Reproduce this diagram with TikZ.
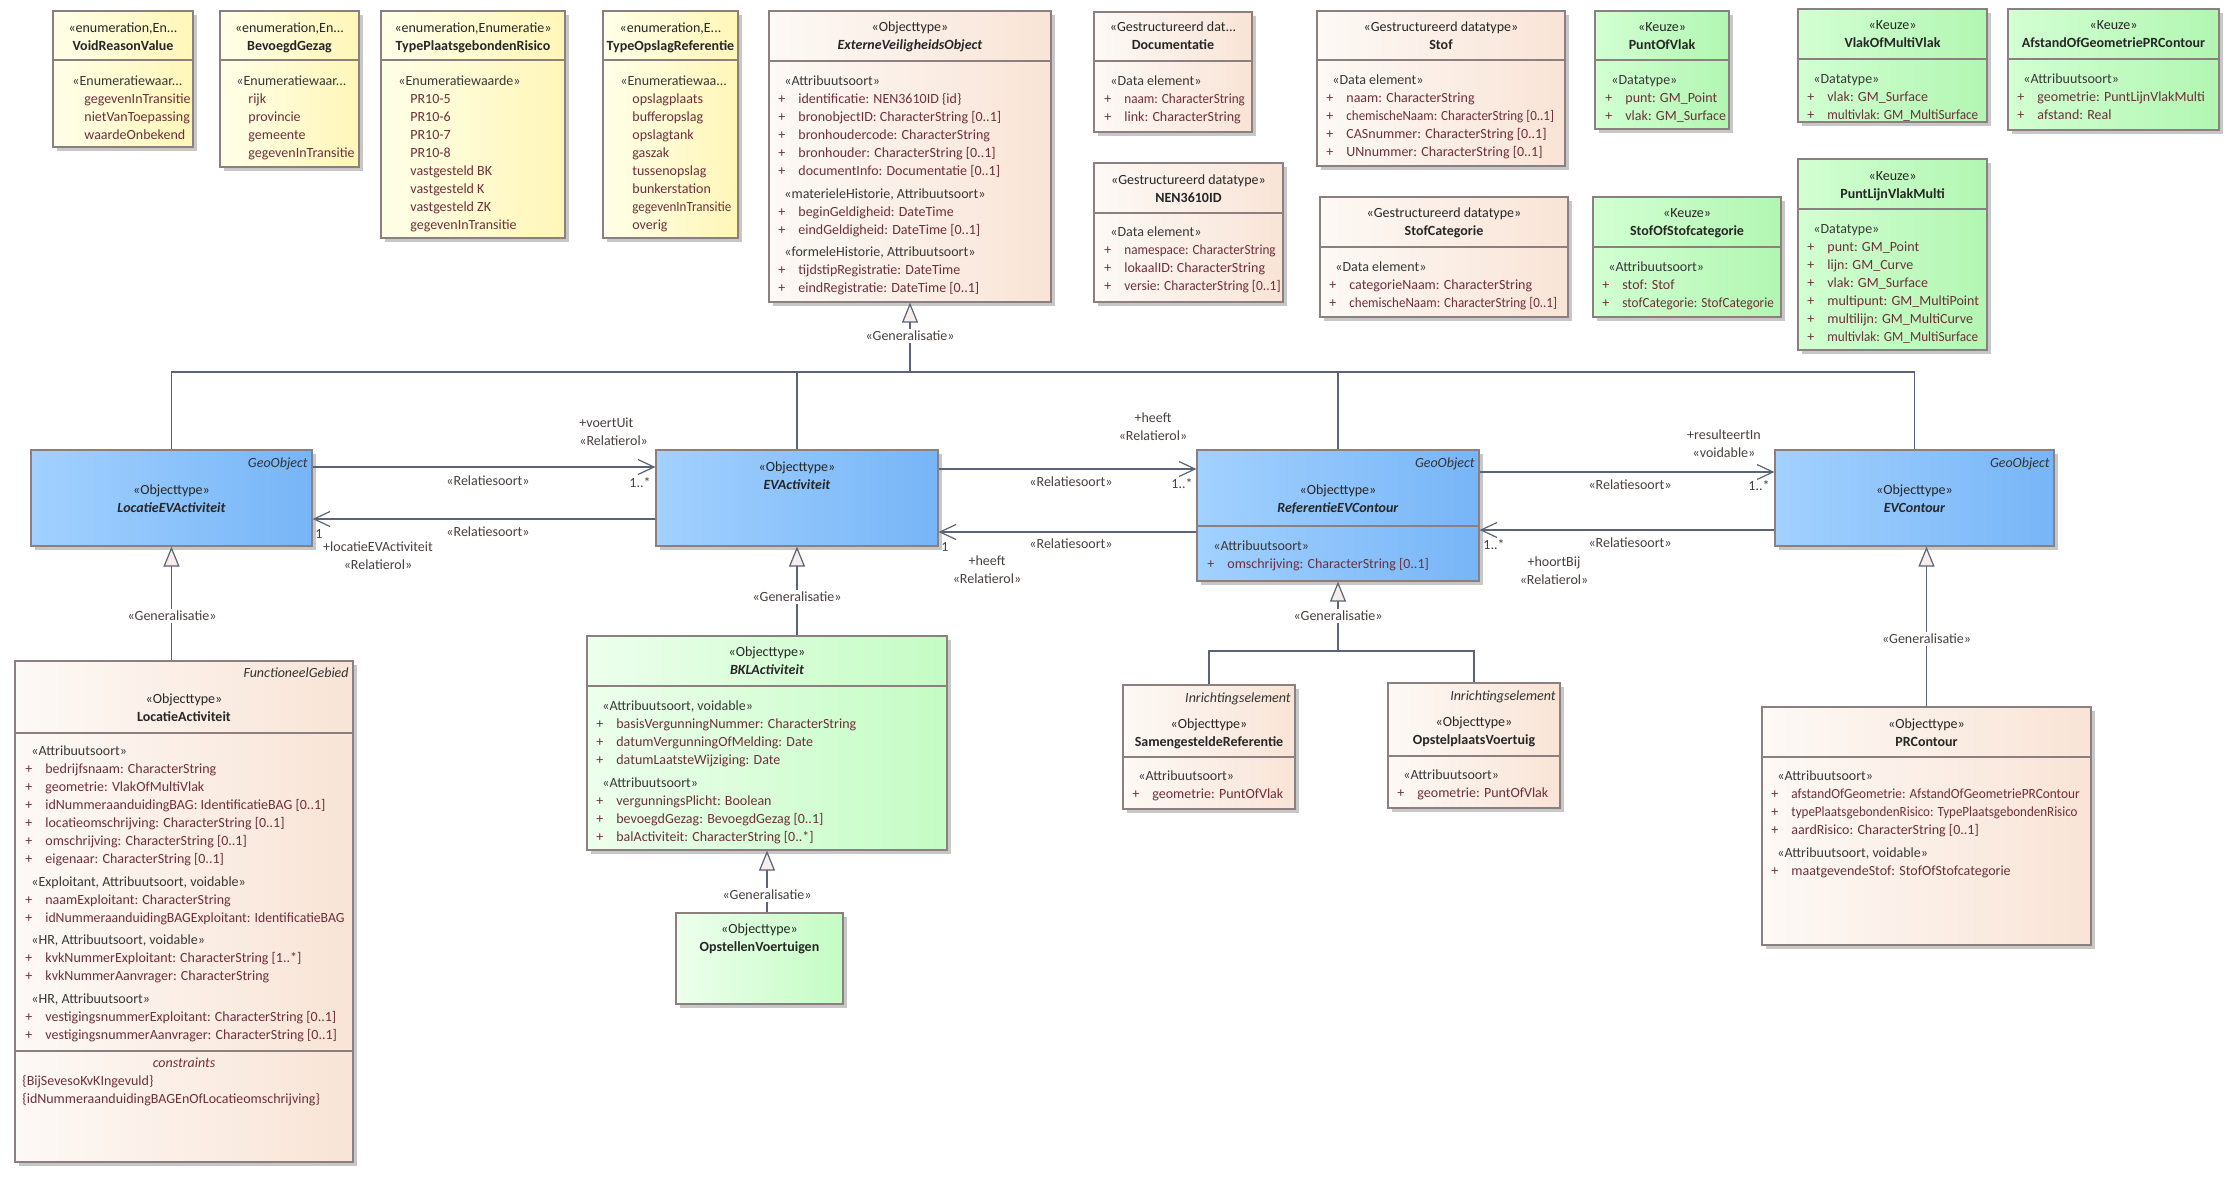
\documentclass[tikz,border=0pt]{standalone}
\usepackage{fontspec}
\setmainfont{Carlito}
\usetikzlibrary{arrows.meta,shadows,fit}

\definecolor{enumL}{HTML}{FFFFE8}
\definecolor{enumR}{HTML}{FFF6B8}
\definecolor{peachL}{HTML}{FDF9F6}
\definecolor{peachR}{HTML}{F9E4D6}
\definecolor{blueL}{HTML}{A2D1FF}
\definecolor{blueR}{HTML}{77B5F7}
\definecolor{keuzeL}{HTML}{D2FFD2}
\definecolor{keuzeR}{HTML}{B2F6B2}
\definecolor{bklL}{HTML}{EDFFED}
\definecolor{bklR}{HTML}{C4FCC4}
\definecolor{boxline}{HTML}{8C7F7F}
\definecolor{connline}{HTML}{5A6478}
\definecolor{attrtext}{HTML}{6E2F3B}
\definecolor{lbltext}{HTML}{4A3F3F}
\definecolor{genfill}{HTML}{F7EDEA}

\newcommand\topstrut{\rule{0pt}{6pt}}
\newcommand\sth[1]{{\color{black!78}#1}}
\newcommand\stt[1]{\hspace*{3pt}\sth{#1}}
\newcommand\itm[1]{\makebox[10pt][l]{+}#1}
\newcommand\lit[1]{\hspace*{6pt}#1}
\newcommand\sq[2][0.94]{\scalebox{#1}[1]{#2}}

\tikzset{
  every node/.style={font=\fontsize{7}{9}\selectfont, inner sep=0pt},
  umlbox/.style={draw=boxline, line width=0.6pt, inner sep=0pt,
    drop shadow={shadow xshift=2pt, shadow yshift=-2pt, fill=black!22, opacity=1}},
  enumbox/.style={umlbox, left color=enumL, right color=enumR},
  databox/.style={umlbox, left color=peachL, right color=peachR},
  geobox/.style={umlbox, left color=blueL, right color=blueR},
  keuzebox/.style={umlbox, left color=keuzeL, right color=keuzeR},
  bklbox/.style={umlbox, left color=bklL, right color=bklR},
  divider/.style={draw=boxline, line width=0.6pt},
  head/.style={align=center, anchor=north, text=black!85},
  attrs/.style={align=left, anchor=north west, text=attrtext},
  tagl/.style={anchor=mid east, font=\fontsize{7}{9}\selectfont\itshape, text=black!80},
  conn/.style={draw=connline, line width=0.6pt},
  assoc/.style={conn, -{Straight Barb[length=8pt, width=7.5pt]}},
  genarrow/.style={conn, -{Triangle[length=10pt, width=8pt, fill=genfill]}},
  gentag/.style={fill=white, inner sep=1pt, text=lbltext},
  lbl/.style={text=lbltext},
  role/.style={lbl, align=center, anchor=north}
}

\begin{document}
\begin{tikzpicture}[x=0.5pt, y=-0.5pt]
  \fill[white] (0,0) rectangle (2239,1180);
  \useasboundingbox (0,0) rectangle (2239,1180);

  % enumerations
  \node[enumbox, fit={(53,11) (193,147)}] (voidReason) {};
  \draw[divider] (53,60) -- (193,60);
  \node[head] (voidReasonHd) at (123,20.5) {\topstrut«enumeration,En...\\\textbf{VoidReasonValue}};
  \node[attrs] (voidReasonLst) at (72,73.5) {\topstrut\sth{«Enumeratiewaar...}\\\lit{gegevenInTransitie}\\\lit{nietVanToepassing}\\\lit{waardeOnbekend}};

  \node[enumbox, fit={(220,11) (359,167)}] (bevoegd) {};
  \draw[divider] (220,60) -- (359,60);
  \node[head] (bevoegdHd) at (289.5,20.5) {\topstrut«enumeration,En...\\\textbf{BevoegdGezag}};
  \node[attrs] (bevoegdLst) at (236,73.5) {\topstrut\sth{«Enumeratiewaar...}\\\lit{rijk}\\\lit{provincie}\\\lit{gemeente}\\\lit{gegevenInTransitie}};

  \node[enumbox, fit={(381,11) (565,238)}] (typePR) {};
  \draw[divider] (381,60) -- (565,60);
  \node[head] (typePRHd) at (473,20.5) {\topstrut«enumeration,Enumeratie»\\\textbf{TypePlaatsgebondenRisico}};
  \node[attrs] (typePRLst) at (398,73.5) {\topstrut\sth{«Enumeratiewaarde»}\\\lit{PR10-5}\\\lit{PR10-6}\\\lit{PR10-7}\\\lit{PR10-8}\\\lit{vastgesteld BK}\\\lit{vastgesteld K}\\\lit{vastgesteld ZK}\\\lit{gegevenInTransitie}};

  \node[enumbox, fit={(603,11) (738,238)}] (typeOpslag) {};
  \draw[divider] (603,60) -- (738,60);
  \node[head] (typeOpslagHd) at (670.5,20.5) {\topstrut«enumeration,E...\\\textbf{TypeOpslagReferentie}};
  \node[attrs] (typeOpslagLst) at (620,73.5) {\topstrut\sth{«Enumeratiewaa...}\\\lit{opslagplaats}\\\lit{bufferopslag}\\\lit{opslagtank}\\\lit{gaszak}\\\lit{tussenopslag}\\\lit{bunkerstation}\\\lit{\sq[0.93]{gegevenInTransitie}}\\\lit{overig}};

  % top data types
  \node[databox, fit={(769,11) (1051,302)}] (evo) {};
  \draw[divider] (769,61) -- (1051,61);
  \node[head] (evoHd) at (910,19.5) {\topstrut«Objecttype»\\\textbf{\textit{ExterneVeiligheidsObject}}};
  \node[attrs] (evoLst) at (778,73.5) {\topstrut\stt{«Attribuutsoort»}\\
    \itm{identificatie: NEN3610ID \{id\}}\\\itm{bronobjectID: CharacterString [0..1]}\\
    \itm{bronhoudercode: CharacterString}\\\itm{bronhouder: CharacterString [0..1]}\\
    \itm{documentInfo: Documentatie [0..1]}\\[2.2pt]
    \stt{«materieleHistorie, Attribuutsoort»}\\\itm{beginGeldigheid: DateTime}\\
    \itm{eindGeldigheid: DateTime [0..1]}\\[2.2pt]
    \stt{«formeleHistorie, Attribuutsoort»}\\\itm{tijdstipRegistratie: DateTime}\\
    \itm{eindRegistratie: DateTime [0..1]}};

  \node[databox, fit={(1094,12) (1252,132)}] (docu) {};
  \draw[divider] (1094,61) -- (1252,61);
  \node[head] (docuHd) at (1173,19.5) {\topstrut«Gestructureerd dat...\\\textbf{Documentatie}};
  \node[attrs] (docuLst) at (1104,73.5) {\topstrut\stt{«Data element»}\\\itm{\sq{naam: CharacterString}}\\\itm{link: CharacterString}};

  \node[databox, fit={(1094,163) (1283,302)}] (nen) {};
  \draw[divider] (1094,213) -- (1283,213);
  \node[head] (nenHd) at (1188.5,172.5) {\topstrut«Gestructureerd datatype»\\\textbf{NEN3610ID}};
  \node[attrs] (nenLst) at (1104,224.5) {\topstrut\stt{«Data element»}\\\itm{\sq{namespace: CharacterString}}\\\itm{lokaalID: CharacterString}\\\itm{\sq[0.96]{versie: CharacterString [0..1]}}};

  \node[databox, fit={(1317,11) (1565,166)}] (stof) {};
  \draw[divider] (1317,60) -- (1565,60);
  \node[head] (stofHd) at (1441,19.5) {\topstrut«Gestructureerd datatype»\\\textbf{Stof}};
  \node[attrs] (stofLst) at (1326,72.5) {\topstrut\stt{«Data element»}\\\itm{naam: CharacterString}\\\itm{\sq[0.93]{chemischeNaam: CharacterString [0..1]}}\\\itm{CASnummer: CharacterString [0..1]}\\\itm{UNnummer: CharacterString [0..1]}};

  \node[databox, fit={(1320,197) (1568,317)}] (stofCat) {};
  \draw[divider] (1320,247) -- (1568,247);
  \node[head] (stofCatHd) at (1444,205.5) {\topstrut«Gestructureerd datatype»\\\textbf{StofCategorie}};
  \node[attrs] (stofCatLst) at (1329,259.5) {\topstrut\stt{«Data element»}\\\itm{categorieNaam: CharacterString}\\\itm{\sq[0.93]{chemischeNaam: CharacterString [0..1]}}};

  % keuze types
  \node[keuzebox, fit={(1595,11) (1729,129)}] (puntOfVlak) {};
  \draw[divider] (1595,60) -- (1729,60);
  \node[head] (puntOfVlakHd) at (1662,19.5) {\topstrut«Keuze»\\\textbf{PuntOfVlak}};
  \node[attrs] (puntOfVlakLst) at (1605,72.5) {\topstrut\stt{«Datatype»}\\\itm{punt: GM\_Point}\\\itm{vlak: GM\_Surface}};

  \node[keuzebox, fit={(1593,197) (1781,317)}] (stofOfStof) {};
  \draw[divider] (1593,247) -- (1781,247);
  \node[head] (stofOfStofHd) at (1687,205.5) {\topstrut«Keuze»\\\textbf{StofOfStofcategorie}};
  \node[attrs] (stofOfStofLst) at (1602,259.5) {\topstrut\stt{«Attribuutsoort»}\\\itm{stof: Stof}\\\itm{\sq{stofCategorie: StofCategorie}}};

  \node[keuzebox, fit={(1798,9) (1987,122)}] (vlakOfMulti) {};
  \draw[divider] (1798,59) -- (1987,59);
  \node[head] (vlakOfMultiHd) at (1892.5,17.5) {\topstrut«Keuze»\\\textbf{VlakOfMultiVlak}};
  \node[attrs] (vlakOfMultiLst) at (1807,71.5) {\topstrut\stt{«Datatype»}\\\itm{vlak: GM\_Surface}\\\itm{\sq{multivlak: GM\_MultiSurface}}};

  \node[keuzebox, fit={(2008,9) (2219,130)}] (afstand) {};
  \draw[divider] (2008,59) -- (2219,59);
  \node[head] (afstandHd) at (2113.5,17.5) {\topstrut«Keuze»\\\textbf{AfstandOfGeometriePRContour}};
  \node[attrs] (afstandLst) at (2017,71.5) {\topstrut\stt{«Attribuutsoort»}\\\itm{geometrie: PuntLijnVlakMulti}\\\itm{afstand: Real}};

  \node[keuzebox, fit={(1798,159) (1987,350)}] (puntLijn) {};
  \draw[divider] (1798,209) -- (1987,209);
  \node[head] (puntLijnHd) at (1892.5,168.5) {\topstrut«Keuze»\\\textbf{PuntLijnVlakMulti}};
  \node[attrs] (puntLijnLst) at (1807,221.5) {\topstrut\stt{«Datatype»}\\\itm{punt: GM\_Point}\\\itm{lijn: GM\_Curve}\\\itm{vlak: GM\_Surface}\\\itm{multipunt: GM\_MultiPoint}\\\itm{multilijn: GM\_MultiCurve}\\\itm{\sq{multivlak: GM\_MultiSurface}}};

  % geo objects
  \node[geobox, fit={(31,450) (312,546)}] (locEV) {};
  \node[tagl] (locEVTag) at (308,463) {GeoObject};
  \node[head] (locEVHd) at (171.5,482.5) {\topstrut«Objecttype»\\\textbf{\textit{LocatieEVActiviteit}}};

  \node[geobox, fit={(656,450) (938,546)}] (evAct) {};
  \node[head] (evActHd) at (797,459.5) {\topstrut«Objecttype»\\\textbf{\textit{EVActiviteit}}};

  \node[geobox, fit={(1197,450) (1479,581)}] (refEV) {};
  \draw[divider] (1197,526) -- (1479,526);
  \node[tagl] (refEVTag) at (1475,463) {GeoObject};
  \node[head] (refEVHd) at (1338,482.5) {\topstrut«Objecttype»\\\textbf{\textit{ReferentieEVContour}}};
  \node[attrs] (refEVLst) at (1207,538.5) {\topstrut\stt{«Attribuutsoort»}\\\itm{omschrijving: CharacterString [0..1]}};

  \node[geobox, fit={(1775,450) (2054,546)}] (evCont) {};
  \node[tagl] (evContTag) at (2050,463) {GeoObject};
  \node[head] (evContHd) at (1914.5,482.5) {\topstrut«Objecttype»\\\textbf{\textit{EVContour}}};

  % lower classes
  \node[databox, fit={(15,661) (353,1162)}] (locAct) {};
  \draw[divider] (15,733) -- (353,733);
  \draw[divider] (15,1051) -- (353,1051);
  \node[tagl] (locActTag) at (349,673) {FunctioneelGebied};
  \node[head] (locActHd) at (184,691.5) {\topstrut«Objecttype»\\\textbf{LocatieActiviteit}};
  \node[attrs] (locActLst) at (25,743.5) {\topstrut\stt{«Attribuutsoort»}\\
    \itm{bedrijfsnaam: CharacterString}\\\itm{geometrie: VlakOfMultiVlak}\\
    \itm{idNummeraanduidingBAG: IdentificatieBAG [0..1]}\\\itm{locatieomschrijving: CharacterString [0..1]}\\
    \itm{omschrijving: CharacterString [0..1]}\\\itm{eigenaar: CharacterString [0..1]}\\[2.2pt]
    \stt{«Exploitant, Attribuutsoort, voidable»}\\\itm{naamExploitant: CharacterString}\\
    \itm{\sq[0.98]{idNummeraanduidingBAGExploitant: IdentificatieBAG}}\\[2.2pt]
    \stt{«HR, Attribuutsoort, voidable»}\\\itm{kvkNummerExploitant: CharacterString [1..*]}\\
    \itm{kvkNummerAanvrager: CharacterString}\\[2.2pt]
    \stt{«HR, Attribuutsoort»}\\\itm{vestigingsnummerExploitant: CharacterString [0..1]}\\
    \itm{vestigingsnummerAanvrager: CharacterString [0..1]}};
  \node[head, text=attrtext, font=\fontsize{7}{9}\selectfont\itshape] (locActCon) at (184,1055.5) {\topstrut constraints};
  \node[attrs] (locActConLst) at (22,1073.5) {\topstrut\{BijSevesoKvKIngevuld\}\\\{idNummeraanduidingBAGEnOfLocatieomschrijving\}};

  \node[bklbox, fit={(587,636) (947,850)}] (bkl) {};
  \draw[divider] (587,686) -- (947,686);
  \node[head] (bklHd) at (767,644.5) {\topstrut«Objecttype»\\\textbf{\textit{BKLActiviteit}}};
  \node[attrs] (bklLst) at (596,698.5) {\topstrut\stt{«Attribuutsoort, voidable»}\\
    \itm{basisVergunningNummer: CharacterString}\\\itm{datumVergunningOfMelding: Date}\\
    \itm{datumLaatsteWijziging: Date}\\[2.2pt]
    \stt{«Attribuutsoort»}\\\itm{vergunningsPlicht: Boolean}\\
    \itm{bevoegdGezag: BevoegdGezag [0..1]}\\\itm{balActiviteit: CharacterString [0..*]}};

  \node[bklbox, fit={(676,913) (843,1004)}] (opstellen) {};
  \node[head] (opstellenHd) at (759.5,921.5) {\topstrut«Objecttype»\\\textbf{OpstellenVoertuigen}};

  \node[databox, fit={(1123,685) (1295,809)}] (samRef) {};
  \draw[divider] (1123,757) -- (1295,757);
  \node[tagl] (samRefTag) at (1291,698) {Inrichtingselement};
  \node[head] (samRefHd) at (1209,716.5) {\topstrut«Objecttype»\\\textbf{SamengesteldeReferentie}};
  \node[attrs] (samRefLst) at (1132,768.5) {\topstrut\stt{«Attribuutsoort»}\\\itm{geometrie: PuntOfVlak}};

  \node[databox, fit={(1388,683) (1560,808)}] (opstelpl) {};
  \draw[divider] (1388,756) -- (1560,756);
  \node[tagl] (opstelplTag) at (1556,696) {Inrichtingselement};
  \node[head] (opstelplHd) at (1474,714.5) {\topstrut«Objecttype»\\\textbf{OpstelplaatsVoertuig}};
  \node[attrs] (opstelplLst) at (1397,767.5) {\topstrut\stt{«Attribuutsoort»}\\\itm{geometrie: PuntOfVlak}};

  \node[databox, fit={(1762,707) (2091,945)}] (prc) {};
  \draw[divider] (1762,757) -- (2091,757);
  \node[head] (prcHd) at (1926.5,716.5) {\topstrut«Objecttype»\\\textbf{PRContour}};
  \node[attrs] (prcLst) at (1771,768.5) {\topstrut\stt{«Attribuutsoort»}\\
    \itm{\sq[0.95]{afstandOfGeometrie: AfstandOfGeometriePRContour}}\\
    \itm{\sq[0.93]{typePlaatsgebondenRisico: TypePlaatsgebondenRisico}}\\
    \itm{aardRisico: CharacterString [0..1]}\\[2.2pt]
    \stt{«Attribuutsoort, voidable»}\\\itm{maatgevendeStof: StofOfStofcategorie}};

  % generalisations
  \coordinate (genTop) at (910,372);
  \draw[conn] (locEV.north) |- (genTop);
  \draw[conn] (evAct.north) |- (genTop);
  \draw[conn] (refEV.north) |- (genTop);
  \draw[conn] (evCont.north) |- (genTop);
  \draw[genarrow] (genTop) -- (evo.south);
  \node[gentag] (genEvo) at (910,336) {«Generalisatie»};

  \draw[genarrow] (locEV.south |- locAct.north) -- (locEV.south);
  \node[gentag] (genLocEV) at (172,616) {«Generalisatie»};

  \draw[genarrow] (evAct.south |- bkl.north) -- (evAct.south);
  \node[gentag] (genEvAct) at (797,597) {«Generalisatie»};

  \draw[genarrow] (bkl.south |- opstellen.north) -- (bkl.south);
  \node[gentag] (genBkl) at (767,895) {«Generalisatie»};

  \coordinate (refJoin) at (1338,651);
  \draw[conn] (samRef.north) |- (refJoin);
  \draw[conn] (opstelpl.north) |- (refJoin);
  \draw[genarrow] (refJoin) -- (refEV.south);
  \node[gentag] (genRefEV) at (1338,616) {«Generalisatie»};

  \draw[genarrow] (prc.north) -- (prc.north |- evCont.south);
  \node[gentag] (genEvCont) at (1926.5,639) {«Generalisatie»};

  % associations
  \draw[assoc] (locEV.east |- 0,467) -- (evAct.west |- 0,467);
  \draw[assoc] (evAct.west |- 0,519) -- (locEV.east |- 0,519);
  \node[lbl] (relA1) at (488,481) {«Relatiesoort»};
  \node[lbl] (relA2) at (488,532) {«Relatiesoort»};
  \node[lbl, align=left, anchor=north west] (roleVoert) at (579,415.5) {\topstrut+voertUit\\«Relatierol»};
  \node[lbl] (multA1) at (640,483) {1..*};
  \node[lbl] (multA2) at (319,534) {1};
  \node[role] (roleLoc) at (378,539.5) {\topstrut+locatieEVActiviteit\\«Relatierol»};

  \draw[assoc] (evAct.east |- 0,469) -- (refEV.west |- 0,469);
  \draw[assoc] (refEV.west |- 0,532) -- (evAct.east |- 0,532);
  \node[lbl] (relB1) at (1071,482) {«Relatiesoort»};
  \node[lbl] (relB2) at (1071,544) {«Relatiesoort»};
  \node[role] (roleHeeftB1) at (1153,410.5) {\topstrut+heeft\\«Relatierol»};
  \node[lbl] (multB1) at (1182,484) {1..*};
  \node[lbl] (multB2) at (945,547) {1};
  \node[role] (roleHeeftB2) at (987,553.5) {\topstrut+heeft\\«Relatierol»};

  \draw[assoc] (refEV.east |- 0,472) -- (evCont.west |- 0,472);
  \draw[assoc] (evCont.west |- 0,530) -- (refEV.east |- 0,530);
  \node[lbl] (relC1) at (1630,485) {«Relatiesoort»};
  \node[lbl] (relC2) at (1630,543) {«Relatiesoort»};
  \node[role] (roleResult) at (1724,427.5) {\topstrut+resulteertIn\\«voidable»};
  \node[lbl] (multC1) at (1759,486) {1..*};
  \node[lbl] (multC2) at (1494,545) {1..*};
  \node[role] (roleHoort) at (1554,554.5) {\topstrut+hoortBij\\«Relatierol»};
\end{tikzpicture}
\end{document}
